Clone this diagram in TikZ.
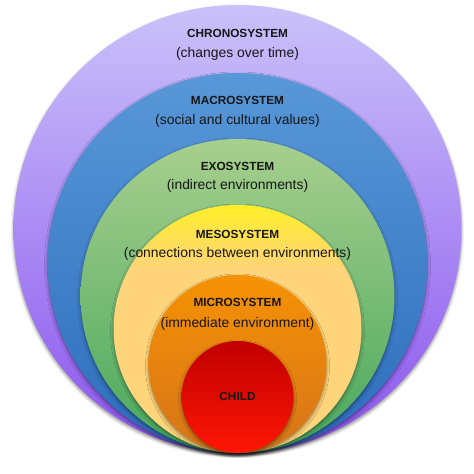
\documentclass[tikz,border=0pt]{standalone}
\usepackage{fontspec}
\setmainfont{Liberation Sans}
\usetikzlibrary{shadows.blur}
\definecolor{txt}{RGB}{22,22,22}
\definecolor{chroT}{RGB}{202,194,250}
\definecolor{chroB}{RGB}{140,85,238}
\definecolor{macroT}{RGB}{88,152,216}
\definecolor{macroB}{RGB}{45,108,188}
\definecolor{exoT}{RGB}{168,207,142}
\definecolor{exoB}{RGB}{72,168,92}
\definecolor{mesoY}{RGB}{255,238,40}
\definecolor{mesoP}{RGB}{255,212,122}
\definecolor{microT}{RGB}{246,146,4}
\definecolor{microB}{RGB}{214,116,26}
\definecolor{childT}{RGB}{192,0,0}
\definecolor{childB}{RGB}{255,22,6}
\pgfdeclareverticalshading{mesosh}{100bp}{color(0bp)=(mesoP); color(25bp)=(mesoP); color(62bp)=(mesoP); color(75bp)=(mesoY); color(100bp)=(mesoY)}
\begin{document}
\begin{tikzpicture}[x=1pt,y=-1pt,
  ring/.style={circle, inner sep=0pt, draw=none,
    blur shadow={shadow xshift=0pt, shadow yshift=-2pt, shadow blur radius=3pt, shadow opacity=45}},
  title/.style={font=\fontsize{11.8}{14}\selectfont\bfseries, text=txt, inner sep=0pt},
  sub/.style={font=\fontsize{13.9}{16}\selectfont, text=txt, inner sep=0pt}]
\useasboundingbox (0,0) rectangle (474,474);
\node[ring, minimum size=448pt, top color=chroT, bottom color=chroB] (chrono) at (237.5,229) {};
\node[ring, minimum size=380pt, top color=macroT, bottom color=macroB] (macro) at (237.5,263) {};
\node[ring, minimum size=314pt, top color=exoT, bottom color=exoB] (exo) at (237.5,296) {};
\node[ring, minimum size=248pt, shading=mesosh] (meso) at (237.5,329) {};
\node[ring, minimum size=178pt, top color=microT, bottom color=microB] (micro) at (237.5,364) {};
\node[ring, minimum size=112pt, top color=childT, bottom color=childB] (child) at (237.5,397) {};
\node[title] (t1) at (237.5,33) {CHRONOSYSTEM};
\node[sub] (s1) at (237.5,54) {(changes over time)};
\node[title] (t2) at (237.5,100) {MACROSYSTEM};
\node[sub] (s2) at (237.5,121) {(social and cultural values)};
\node[title] (t3) at (237.5,166) {EXOSYSTEM};
\node[sub] (s3) at (237.5,186) {(indirect environments)};
\node[title] (t4) at (237.5,234) {MESOSYSTEM};
\node[sub] (s4) at (237.5,254) {(connections between environments)};
\node[title] (t5) at (237.5,302) {MICROSYSTEM};
\node[sub] (s5) at (237.5,324) {(immediate environment)};
\node[title] (t6) at (237.5,396) {CHILD};
\end{tikzpicture}
\end{document}
